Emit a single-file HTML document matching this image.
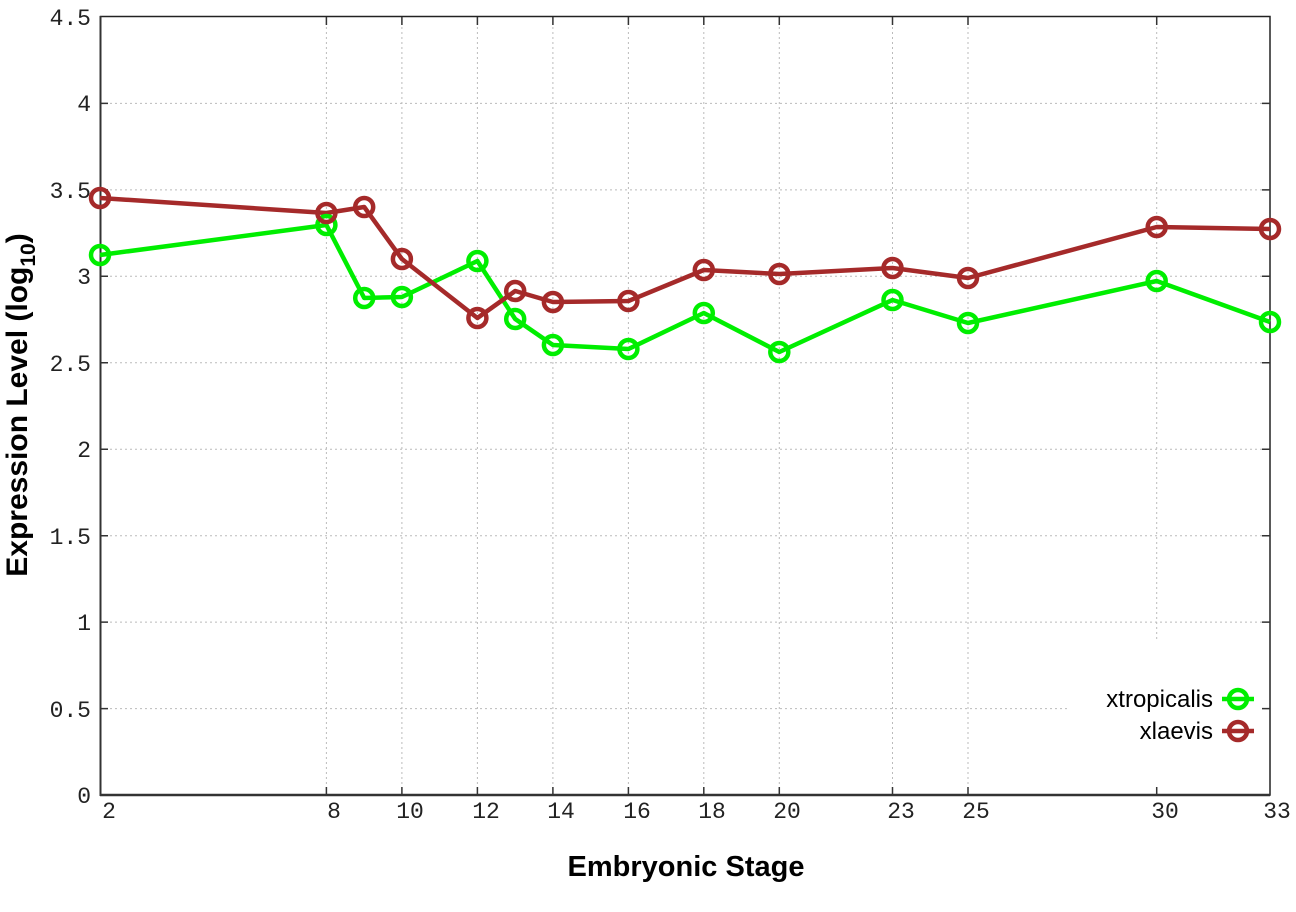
<!DOCTYPE html>
<html><head><meta charset="utf-8"><style>html,body{margin:0;padding:0;background:#fff}</style></head>
<body>
<svg width="1296" height="907" xmlns="http://www.w3.org/2000/svg" font-family="Liberation Mono, monospace">
<rect width="1296" height="907" fill="#fff"/>
<g stroke="#bbb" stroke-width="1" stroke-dasharray="2,3">
<line x1="100" y1="708.6" x2="1070" y2="708.6"/>
<line x1="100" y1="622.1" x2="1270" y2="622.1"/>
<line x1="100" y1="535.7" x2="1270" y2="535.7"/>
<line x1="100" y1="449.2" x2="1270" y2="449.2"/>
<line x1="100" y1="362.8" x2="1270" y2="362.8"/>
<line x1="100" y1="276.3" x2="1270" y2="276.3"/>
<line x1="100" y1="189.9" x2="1270" y2="189.9"/>
<line x1="100" y1="103.4" x2="1270" y2="103.4"/>
<line x1="326.4" y1="17" x2="326.4" y2="795"/>
<line x1="401.9" y1="17" x2="401.9" y2="795"/>
<line x1="477.4" y1="17" x2="477.4" y2="795"/>
<line x1="552.9" y1="17" x2="552.9" y2="795"/>
<line x1="628.4" y1="17" x2="628.4" y2="795"/>
<line x1="703.8" y1="17" x2="703.8" y2="795"/>
<line x1="779.3" y1="17" x2="779.3" y2="795"/>
<line x1="892.5" y1="17" x2="892.5" y2="795"/>
<line x1="968" y1="17" x2="968" y2="795"/>
<line x1="1156.7" y1="17" x2="1156.7" y2="640"/>
</g>
<rect x="100.5" y="16.5" width="1169.5" height="778.5" fill="none" stroke="#222" stroke-width="1.5"/>
<line x1="100" y1="795" x2="1270" y2="795" stroke="#333" stroke-width="2.5"/>
<line x1="100.5" y1="16" x2="100.5" y2="796" stroke="#333" stroke-width="2"/>
<g stroke="#333" stroke-width="1.5">
<path d="M100 708.6h8M100 622.1h8M100 535.7h8M100 449.2h8M100 362.8h8M100 276.3h8M100 189.9h8M100 103.4h8"/>
<path d="M1270 708.6h-8M1270 622.1h-8M1270 535.7h-8M1270 449.2h-8M1270 362.8h-8M1270 276.3h-8M1270 189.9h-8M1270 103.4h-8"/>
<path d="M326.4 795v-8M401.9 795v-8M477.4 795v-8M552.9 795v-8M628.4 795v-8M703.8 795v-8M779.3 795v-8M892.5 795v-8M968 795v-8M1156.7 795v-8"/>
<path d="M326.4 17v8M401.9 17v8M477.4 17v8M552.9 17v8M628.4 17v8M703.8 17v8M779.3 17v8M892.5 17v8M968 17v8M1156.7 17v8"/>
</g>
<g font-size="23" fill="#222" text-anchor="end">
<text x="91" y="803">0</text><text x="91" y="717">0.5</text><text x="91" y="630">1</text>
<text x="91" y="544">1.5</text><text x="91" y="457">2</text><text x="91" y="371">2.5</text>
<text x="91" y="284">3</text><text x="91" y="198">3.5</text><text x="91" y="111">4</text><text x="91" y="25">4.5</text>
</g>
<g font-size="23" fill="#222" text-anchor="middle">
<text x="109" y="818">2</text><text x="334" y="818">8</text><text x="410" y="818">10</text>
<text x="486" y="818">12</text><text x="561" y="818">14</text><text x="637" y="818">16</text>
<text x="712" y="818">18</text><text x="787" y="818">20</text><text x="901" y="818">23</text>
<text x="976" y="818">25</text><text x="1165" y="818">30</text><text x="1277" y="818">33</text>
</g>
<text x="686" y="876" font-family="Liberation Sans, sans-serif" font-weight="bold" font-size="29" text-anchor="middle" fill="#000">Embryonic Stage</text>
<text transform="translate(27,405) rotate(-90)" font-family="Liberation Sans, sans-serif" font-weight="bold" font-size="30" text-anchor="middle" fill="#000">Expression Level (log<tspan font-size="21" dy="8">10</tspan><tspan dy="-8">)</tspan></text>
<g fill="none" stroke-width="4.5" stroke-linejoin="round">
<polyline stroke="#00ee00" points="100,255 326.4,225 364.2,298 401.9,297 477.4,261 515.2,319 552.9,345 628.4,349 703.8,313 779.3,352 892.5,300 968,323 1156.7,281 1270,322"/>
<polyline stroke="#a52a2a" points="100,198 326.4,213 364.2,207 401.9,259 477.4,318 515.2,291 552.9,302 628.4,301 703.8,270 779.3,274 892.5,268 968,278 1156.7,227 1270,229"/>
<g stroke="#00ee00">
<circle cx="100" cy="255" r="9"/><circle cx="326.4" cy="225" r="9"/><circle cx="364.2" cy="298" r="9"/><circle cx="401.9" cy="297" r="9"/><circle cx="477.4" cy="261" r="9"/><circle cx="515.2" cy="319" r="9"/><circle cx="552.9" cy="345" r="9"/><circle cx="628.4" cy="349" r="9"/><circle cx="703.8" cy="313" r="9"/><circle cx="779.3" cy="352" r="9"/><circle cx="892.5" cy="300" r="9"/><circle cx="968" cy="323" r="9"/><circle cx="1156.7" cy="281" r="9"/><circle cx="1270" cy="322" r="9"/>
</g>
<g stroke="#a52a2a">
<circle cx="100" cy="198" r="9"/><circle cx="326.4" cy="213" r="9"/><circle cx="364.2" cy="207" r="9"/><circle cx="401.9" cy="259" r="9"/><circle cx="477.4" cy="318" r="9"/><circle cx="515.2" cy="291" r="9"/><circle cx="552.9" cy="302" r="9"/><circle cx="628.4" cy="301" r="9"/><circle cx="703.8" cy="270" r="9"/><circle cx="779.3" cy="274" r="9"/><circle cx="892.5" cy="268" r="9"/><circle cx="968" cy="278" r="9"/><circle cx="1156.7" cy="227" r="9"/><circle cx="1270" cy="229" r="9"/>
</g>
<path stroke="#00ee00" d="M1222 699h32"/><circle stroke="#00ee00" cx="1238" cy="699" r="9"/>
<path stroke="#a52a2a" d="M1222 731h32"/><circle stroke="#a52a2a" cx="1238" cy="731" r="9"/>
</g>
<g font-family="Liberation Sans, sans-serif" font-size="24" fill="#000" text-anchor="end">
<text x="1213" y="707">xtropicalis</text><text x="1213" y="739">xlaevis</text>
</g>
</svg>
</body></html>
